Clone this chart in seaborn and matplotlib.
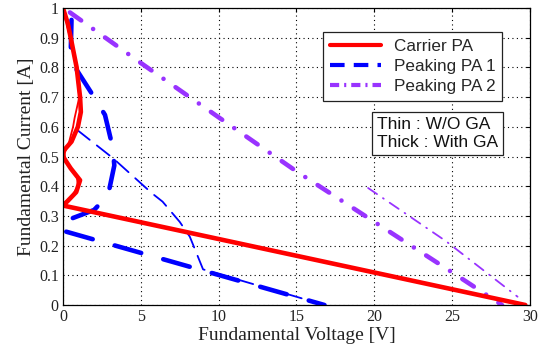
import matplotlib
matplotlib.use("Agg")
import matplotlib.pyplot as plt
from matplotlib.lines import Line2D
import seaborn as sns

# Load-line trajectories (fundamental voltage [V] vs fundamental current [A])
carrier_thick_v = [0.0, 0.3, 0.5, 0.88, 1.1, 1.15, 0.96, 0.55, 0.05, 0.0, 0.5, 1.1, 0.85, 0.3, 0.0, 29.7]
carrier_thick_i = [1.0, 0.95, 0.9, 0.8, 0.7, 0.65, 0.6, 0.55, 0.52, 0.5, 0.46, 0.42, 0.38, 0.35, 0.335, 0.0]

carrier_thin_v = [0.0, 0.45, 0.85, 1.05, 0.75, 0.65, 0.4, 0.1, 0.2, 0.9, 0.95, 0.5, 0.0, 29.7]
carrier_thin_i = [1.0, 0.9, 0.8, 0.7, 0.63, 0.6, 0.55, 0.51, 0.48, 0.43, 0.4, 0.36, 0.335, 0.0]

peak1_thick_v = [0.55, 0.5, 0.9, 2.0, 2.7, 3.2, 3.3, 2.9, 2.0, 0.0, 0.0, 16.8]
peak1_thick_i = [0.96, 0.85, 0.79, 0.7, 0.64, 0.53, 0.47, 0.37, 0.32, 0.28, 0.25, 0.0]

peak1_thin_v = [0.9, 3.2, 5.7, 6.4, 7.5, 8.15, 9.0, 16.8]
peak1_thin_i = [0.59, 0.495, 0.377, 0.348, 0.28, 0.23, 0.12, 0.0]

peak2_thick_v = [0.45, 5.0, 10.0, 15.0, 20.0, 25.0, 28.2]
peak2_thick_i = [0.985, 0.815, 0.632, 0.45, 0.28, 0.11, 0.0]

peak2_thin_v = [19.6, 24.6, 29.2]
peak2_thin_i = [0.394, 0.215, 0.028]

x_ticks = [0, 5, 10, 15, 20, 25, 30]
y_ticks = [0, 0.1, 0.2, 0.3, 0.4, 0.5, 0.6, 0.7, 0.8, 0.9, 1]
y_tick_labels = ["0", "0.1", "0.2", "0.3", "0.4", "0.5", "0.6", "0.7", "0.8", "0.9", "1"]

series_names = ["Carrier PA", "Peaking PA 1", "Peaking PA 2"]
RED = "#ff0000"
BLUE = "#0000ff"
PURPLE = "#9933ff"

sns.set_theme(style="white")
plt.rcParams["font.family"] = ["Liberation Serif", "DejaVu Serif"]

fig = plt.figure(figsize=(5.57, 3.54), dpi=100)
ax = fig.add_axes([0.113, 0.1384, 0.8385, 0.839])

THICK = 3.3
THIN = 1.3


def draw(v, i, color, lw, dashes=None):
    sns.lineplot(x=v, y=i, sort=False, estimator=None, color=color, lw=lw, ax=ax)
    line = ax.lines[-1]
    line.set_solid_capstyle("round")
    line.set_solid_joinstyle("round")
    if dashes is not None:
        line.set_dashes(dashes)
        line.set_dash_capstyle("round")
    return line


# Peaking PA 2 (dash-dot)
draw(peak2_thick_v, peak2_thick_i, PURPLE, THICK, (3, 3.2, 0.01, 3.2))
draw(peak2_thin_v, peak2_thin_i, PURPLE, THIN, (6, 4, 0.5, 4))
# Peaking PA 1 (dashed)
draw(peak1_thick_v, peak1_thick_i, BLUE, THICK, (6, 5))
draw(peak1_thin_v, peak1_thin_i, BLUE, THIN, (9, 5))
# Carrier PA (solid)
draw(carrier_thick_v, carrier_thick_i, RED, THICK)
draw(carrier_thin_v, carrier_thin_i, RED, THIN)

ax.set_xlim(0, 30)
ax.set_ylim(0, 1)
ax.set_xticks(x_ticks)
ax.set_yticks(y_ticks)
ax.set_yticklabels(y_tick_labels)
ax.grid(True, color="black", linestyle=(0, (1, 3)), linewidth=0.8)
for s in ax.spines.values():
    s.set_color("black")
    s.set_linewidth(0.9)
ax.tick_params(axis="both", which="both", direction="in", length=3, width=0.8,
               top=True, right=True, labelsize=11.5, colors="black", pad=3)
for lab in ax.get_xticklabels() + ax.get_yticklabels():
    lab.set_color("#222222")

ax.set_xlabel("Fundamental Voltage [V]", fontsize=14, labelpad=1, color="#222222")
ax.set_ylabel("Fundamental Current [A]", fontsize=14, labelpad=3, color="#222222")

handles = [
    Line2D([], [], color=RED, lw=3),
    Line2D([], [], color=BLUE, lw=3, dashes=(3.5, 2.2)),
    Line2D([], [], color=PURPLE, lw=3, dashes=(2.2, 1.2, 0.5, 1.2)),
]
leg = ax.legend(handles, series_names, loc="upper left",
                bbox_to_anchor=(0.557, 0.919), frameon=True, fancybox=False,
                edgecolor="#222222", framealpha=1, borderaxespad=0,
                handlelength=3.0, handletextpad=0.75, labelspacing=0.3,
                borderpad=0.4, prop={"family": "Liberation Sans", "size": 12.3})
leg.get_frame().set_linewidth(0.9)

ax.text(0.672, 0.632, "Thin : W/O GA\nThick : With GA", transform=ax.transAxes,
        ha="left", va="top", fontsize=12.5, family="Liberation Sans",
        linespacing=1.2, color="#111111",
        bbox=dict(boxstyle="square,pad=0.3", fc="white", ec="#222222", lw=0.9))

fig.savefig("out.png", dpi=100)
